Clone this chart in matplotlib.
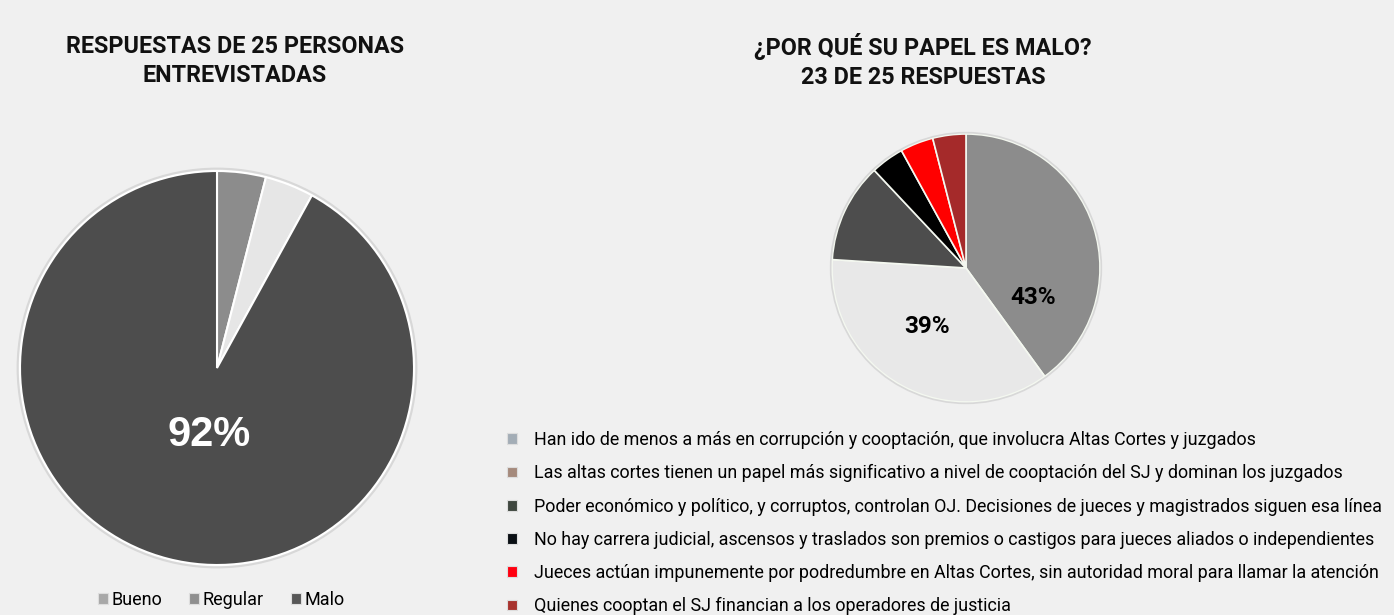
import matplotlib
matplotlib.use("Agg")
import matplotlib.pyplot as plt
from matplotlib.patches import Patch, Circle

# ---- data ----
left_categories = ["Bueno", "Regular", "Malo"]
left_values = [1, 1, 23]
left_colors = ["#8c8c8c", "#e6e6e6", "#4d4d4d"]
left_legend_colors = ["#a8a8a8", "#8f8f8f", "#575757"]
left_label_text = ["", "", "92%"]

right_categories = [
    "Han ido de menos a más en corrupción y cooptación, que involucra Altas Cortes y juzgados",
    "Las altas cortes tienen un papel más significativo a nivel de cooptación del SJ y dominan los juzgados",
    "Poder económico y político, y corruptos, controlan OJ. Decisiones de jueces y magistrados siguen esa línea",
    "No hay carrera judicial, ascensos y traslados son premios o castigos para jueces aliados o independientes",
    "Jueces actúan impunemente por podredumbre en Altas Cortes, sin autoridad moral para llamar la atención",
    "Quienes cooptan el SJ financian a los operadores de justicia",
]
right_values = [10, 9, 3, 1, 1, 1]
right_colors = ["#8c8c8c", "#e8e8e8", "#4d4d4d", "#000000", "#ff0000", "#a52a2a"]
right_legend_colors = ["#a3adb6", "#a58a7c", "#3f473f", "#0a0f14", "#ff0010", "#a8332e"]
right_label_text = ["43%", "39%", "", "", "", ""]

left_title = "RESPUESTAS DE 25 PERSONAS\nENTREVISTADAS"
right_title = "¿POR QUÉ SU PAPEL ES MALO?\n23 DE 25 RESPUESTAS"

# ---- figure ----
W, H = 1394, 615
BG = "#f0f0f0"
fig = plt.figure(figsize=(W / 100, H / 100), dpi=100, facecolor=BG)

title_family = ["Roboto", "DejaVu Sans"]
title_size = 16.8
title_font = dict(family=title_family, fontweight="bold", fontsize=title_size, color="#111111")
text_font = ["Roboto", "DejaVu Sans"]

def pie_axes(cx, cy, r):
    return fig.add_axes([(cx - r) / W, (H - cy - r) / H, 2 * r / W, 2 * r / H])

# left pie
axl = pie_axes(217, 368, 197)
axl.set_facecolor("none")
wl, _ = axl.pie(left_values, colors=left_colors, startangle=90, counterclock=False,
                wedgeprops=dict(edgecolor="white", linewidth=1.5))
axl.add_patch(Circle((0, 0), 1.012, fill=False, edgecolor="#d8d8d8", linewidth=1.5, clip_on=False))
axl.set_xlim(-1, 1); axl.set_ylim(-1, 1); axl.set_aspect("equal")
for w in wl:
    w.set_clip_on(False)
axl.text(-0.04, -0.34, left_label_text[2], ha="center", va="center", color="white",
         fontsize=30, fontweight="bold", family=["Liberation Sans", "DejaVu Sans"])

fig.text(235 / W, 1 - 61 / H, left_title, ha="center", va="center", linespacing=1.35, **title_font)

handles_l = [Patch(facecolor=c, edgecolor="#dddddd", linewidth=0.8) for c in left_legend_colors]
fig.legend(handles_l, left_categories, loc="center", bbox_to_anchor=(221 / W, 1 - 600 / H),
           ncol=3, frameon=False, prop=dict(family=text_font, size=13),
           handlelength=0.55, handleheight=0.55, handletextpad=0.2, columnspacing=1.5)

# right pie
axr = pie_axes(966, 268, 134)
axr.set_facecolor("none")
wr, _ = axr.pie(right_values, colors=right_colors, startangle=90, counterclock=False,
                wedgeprops=dict(edgecolor="#f4f8f0", linewidth=1.2))
axr.add_patch(Circle((0, 0), 1.01, fill=False, edgecolor="#d8d8d8", linewidth=1.2, clip_on=False))
axr.set_xlim(-1, 1); axr.set_ylim(-1, 1); axr.set_aspect("equal")
for w in wr:
    w.set_clip_on(False)
pct_font = dict(fontsize=17.5, fontweight="bold", family=title_family, color="black")
axr.text(0.50, -0.22, right_label_text[0], ha="center", va="center", **pct_font)
axr.text(-0.29, -0.44, right_label_text[1], ha="center", va="center", **pct_font)

fig.text(923 / W, 1 - 61 / H, right_title, ha="center", va="center", linespacing=1.35, **title_font)

handles_r = [Patch(facecolor=c, edgecolor="#dddddd", linewidth=0.8) for c in right_legend_colors]
fig.legend(handles_r, right_categories, loc="upper left", bbox_to_anchor=(507 / W, 1 - 431 / H),
           frameon=False, prop=dict(family=text_font, size=12.9),
           handlelength=0.55, handleheight=0.55, handletextpad=0.95, labelspacing=0.85,
           borderpad=0, borderaxespad=0)

fig.savefig("out.png", dpi=100, facecolor=BG)
